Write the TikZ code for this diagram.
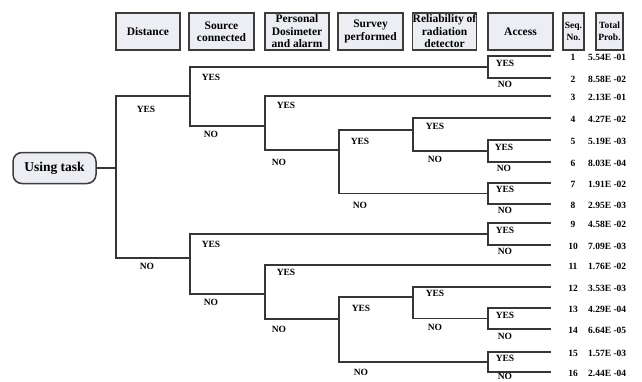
\documentclass[tikz,border=0pt]{standalone}
\usepackage{fontspec}
\setmainfont{Liberation Serif}
\newcommand{\branchwd}{1.3pt}
\definecolor{boxfill}{HTML}{ECEEF4}
\definecolor{boxline}{HTML}{3C3C3C}
\definecolor{treeline}{HTML}{363636}

\begin{document}
\begin{tikzpicture}[x=1pt,y=-1pt,
    head/.style={draw=boxline, fill=boxfill, line width=1.1pt, minimum height=37pt,
      inner sep=0pt, align=center, font=\fontsize{11.5}{12.5}\selectfont\bfseries},
    answer/.style={inner sep=0pt, font=\fontsize{9.5}{10}\selectfont\bfseries},
    seqno/.style={inner sep=0pt, font=\fontsize{9.5}{10}\selectfont\bfseries},
    branch/.style={draw=treeline, line width=\branchwd}]
    \useasboundingbox (0,0) rectangle (642,381);

    % column heads
        \node (dist) at (148,31.5)  [head, minimum width=64pt] {Distance};
        \node (src) at (221.5,31.5)  [head, minimum width=65pt] {Source\\connected};
        \node (dos) at (297,31.5)  [head, minimum width=64pt] {Personal\\Dosimeter\\and alarm};
        \node (surv) at (370.5,31.5)  [head, minimum width=65pt] {Survey\\performed};
        \node (rel) at (444.5,31.5)  [head, minimum width=63pt] {Reliability of\\radiation\\detector};
        \node (acc) at (520.5,31.5)  [head, minimum width=65pt] {Access};
        \node (seq) at (573.5,31.5)  [head, minimum width=21pt, font=\fontsize{9.5}{12}\selectfont\bfseries] {Seq.\\No.};
        \node (tot) at (609.5,31.5)  [head, minimum width=27pt, font=\fontsize{9.5}{12}\selectfont\bfseries] {Total\\Prob.};

    % initiating event
        \node (task) at (54.5,168)  [draw=boxline, fill=boxfill, line width=1.5pt, rounded corners=9pt,
          minimum width=83pt, minimum height=31pt, inner sep=0pt,
          font=\fontsize{13.5}{14}\selectfont\bfseries] {Using task};

    % branch points
        \coordinate (root) at (116,168);
        \coordinate (sc1) at (190,96);
        \coordinate (ac1) at (488,67);
        \coordinate (pd1) at (265,126);
        \coordinate (sv1) at (339,150);
        \coordinate (rl1) at (413,130);
        \coordinate (ac2) at (488,151);
        \coordinate (ac3) at (488,193.5);
        \coordinate (sc2) at (190,258);
        \coordinate (ac4) at (488,234);
        \coordinate (pd2) at (265,294);
        \coordinate (sv2) at (339,319);
        \coordinate (rl2) at (413,297);
        \coordinate (ac5) at (488,318.5);
        \coordinate (ac6) at (488,362);

    % sequence ends
        \coordinate (e1) at (551,56);
        \coordinate (e2) at (551,78);
        \coordinate (e3) at (551,96);
        \coordinate (e4) at (551,118);
        \coordinate (e5) at (551,140);
        \coordinate (e6) at (551,162);
        \coordinate (e7) at (551,183);
        \coordinate (e8) at (551,204);
        \coordinate (e9) at (551,223);
        \coordinate (e10) at (551,245);
        \coordinate (e11) at (551,265);
        \coordinate (e12) at (551,287);
        \coordinate (e13) at (551,308);
        \coordinate (e14) at (551,329);
        \coordinate (e15) at (551,352);
        \coordinate (e16) at (551,372);

        \draw[branch]
        (task) -- (root)
        (root) |- (sc1)  (root) |- (sc2)
        (sc1) |- (ac1)  (sc1) |- (pd1)
        (ac1) |- (e1)  (ac1) |- (e2)
        (pd1) |- (e3)  (pd1) |- (sv1)
        (sv1) |- (rl1)  (sv1) |- (ac3)
        (rl1) |- (e4)  (rl1) |- (ac2)
        (ac2) |- (e5)  (ac2) |- (e6)
        (ac3) |- (e7)  (ac3) |- (e8)
        (sc2) |- (ac4)  (sc2) |- (pd2)
        (ac4) |- (e9)  (ac4) |- (e10)
        (pd2) |- (e11)  (pd2) |- (sv2)
        (sv2) |- (rl2)  (sv2) |- (ac6)
        (rl2) |- (e12)  (rl2) |- (ac5)
        (ac5) |- (e13)  (ac5) |- (e14)
        (ac6) |- (e15)  (ac6) |- (e16);

    % YES / NO on the branches
        \node (yr) at (146,109)  [answer] {YES};
        \node (nr) at (147,266)  [answer] {NO};
        \node (ys1) at (211,77)  [answer] {YES};
        \node (ns1) at (211,134)  [answer] {NO};
        \node (yp1) at (286,105)  [answer] {YES};
        \node (np1) at (279,162)  [answer] {NO};
        \node (yv1) at (360,141)  [answer] {YES};
        \node (nv1) at (360,205)  [answer] {NO};
        \node (yl1) at (435,126)  [answer] {YES};
        \node (nl1) at (435,159)  [answer] {NO};
        \node (ya1) at (505,63)  [answer] {YES};
        \node (na1) at (505,84)  [answer] {NO};
        \node (ya2) at (504,147)  [answer] {YES};
        \node (na2) at (504,168)  [answer] {NO};
        \node (ya3) at (505,189)  [answer] {YES};
        \node (na3) at (505,210)  [answer] {NO};
        \node (ys2) at (211,244)  [answer] {YES};
        \node (ns2) at (211,302)  [answer] {NO};
        \node (yp2) at (286,272)  [answer] {YES};
        \node (np2) at (279,329)  [answer] {NO};
        \node (yv2) at (361,308)  [answer] {YES};
        \node (nv2) at (361,372)  [answer] {NO};
        \node (yl2) at (435,293)  [answer] {YES};
        \node (nl2) at (435,327)  [answer] {NO};
        \node (ya4) at (505,230)  [answer] {YES};
        \node (na4) at (505,251)  [answer] {NO};
        \node (ya5) at (505,315)  [answer] {YES};
        \node (na5) at (505,336)  [answer] {NO};
        \node (ya6) at (505,358)  [answer] {YES};
        \node (na6) at (505,376)  [answer] {NO};

    % sequence numbers and probabilities
        \node (s1) at (573,57)  [seqno] {1};
        \node (s2) at (573,79)  [seqno] {2};
        \node (s3) at (573,97)  [seqno] {3};
        \node (s4) at (573,119)  [seqno] {4};
        \node (s5) at (573,141)  [seqno] {5};
        \node (s6) at (573,163)  [seqno] {6};
        \node (s7) at (573,184)  [seqno] {7};
        \node (s8) at (573,205)  [seqno] {8};
        \node (s9) at (573,224)  [seqno] {9};
        \node (s10) at (573,246)  [seqno] {10};
        \node (s11) at (573,266)  [seqno] {11};
        \node (s12) at (573,288)  [seqno] {12};
        \node (s13) at (573,309)  [seqno] {13};
        \node (s14) at (573,330)  [seqno] {14};
        \node (s15) at (573,353)  [seqno] {15};
        \node (s16) at (573,373)  [seqno] {16};

        \node (p1) at (588,57)  [seqno, anchor=west] {5.54E -01};
        \node (p2) at (588,79)  [seqno, anchor=west] {8.58E -02};
        \node (p3) at (588,97)  [seqno, anchor=west] {2.13E -01};
        \node (p4) at (588,119)  [seqno, anchor=west] {4.27E -02};
        \node (p5) at (588,141)  [seqno, anchor=west] {5.19E -03};
        \node (p6) at (588,163)  [seqno, anchor=west] {8.03E -04};
        \node (p7) at (588,184)  [seqno, anchor=west] {1.91E -02};
        \node (p8) at (588,205)  [seqno, anchor=west] {2.95E -03};
        \node (p9) at (588,224)  [seqno, anchor=west] {4.58E -02};
        \node (p10) at (588,246)  [seqno, anchor=west] {7.09E -03};
        \node (p11) at (588,266)  [seqno, anchor=west] {1.76E -02};
        \node (p12) at (588,288)  [seqno, anchor=west] {3.53E -03};
        \node (p13) at (588,309)  [seqno, anchor=west] {4.29E -04};
        \node (p14) at (588,330)  [seqno, anchor=west] {6.64E -05};
        \node (p15) at (588,353)  [seqno, anchor=west] {1.57E -03};
        \node (p16) at (588,373)  [seqno, anchor=west] {2.44E -04};

  \end{tikzpicture}
\end{document}
